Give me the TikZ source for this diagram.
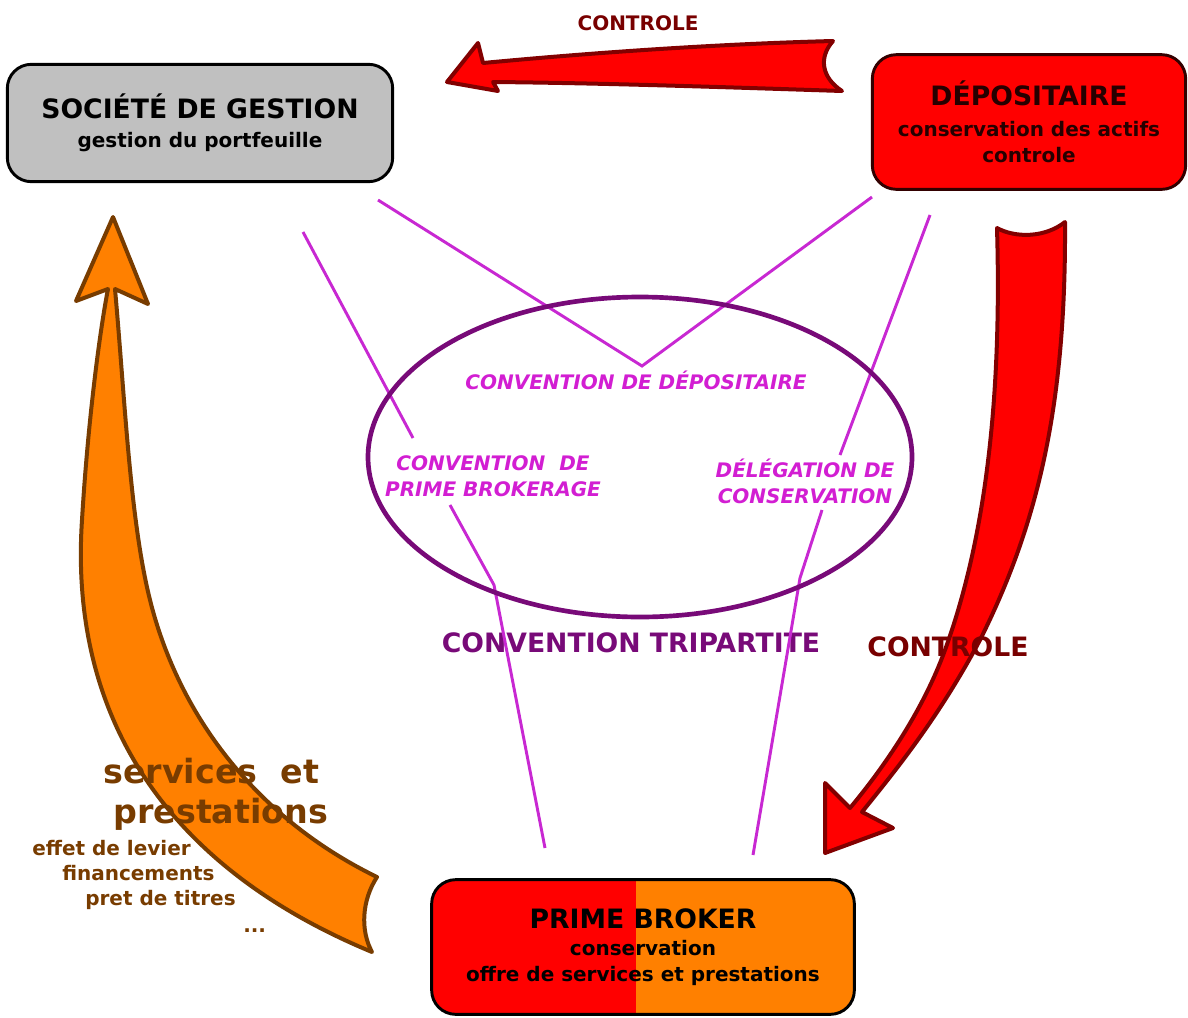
\documentclass[tikz,border=0pt]{standalone}
\usepackage{fontspec}
\setmainfont{DejaVu Sans}
\usepackage{xcolor}
\usepackage{tikz}

\definecolor{rouge}{RGB}{255,0,0}
\definecolor{bordrouge}{RGB}{130,0,0}
\definecolor{ctlrouge}{RGB}{120,0,0}
\definecolor{orangevif}{RGB}{255,128,0}
\definecolor{brun}{RGB}{120,60,0}
\definecolor{gristxt}{RGB}{192,192,192}
\definecolor{magline}{RGB}{200,40,210}
\definecolor{magtxt}{RGB}{210,30,210}
\definecolor{violet}{RGB}{120,10,120}

\begin{document}
\begin{tikzpicture}[x=0.75pt,y=0.75pt,yscale=-1,xscale=1,
  boite/.style={draw=black,line width=2.2pt,rounded corners=18pt,align=center,inner sep=0pt,
    font=\fontsize{15}{19.5}\selectfont\bfseries},
  grand/.style={font=\fontsize{20}{24}\selectfont\bfseries},
  convline/.style={draw=magline,line width=2.2pt},
  convtxt/.style={text=magtxt,font=\fontsize{15}{19.5}\selectfont\bfseries\itshape,align=center,inner sep=0pt},
  flecherouge/.style={fill=rouge,draw=bordrouge,line width=3pt,line join=round},
  flecheorange/.style={fill=orangevif,draw=brun,line width=3pt,line join=round},
  brtxt/.style={text=brun,inner sep=0pt,anchor=base west}]
\useasboundingbox (0,0) rectangle (1188,1017);

%Arrow: orange [id:services]
\draw [flecheorange] (113,217) -- (148,304) -- (115,289)
  .. controls (125,400) and (130,520) .. (150,600)
  .. controls (180,720) and (260,820) .. (377,877)
  .. controls (362,900) and (360,930) .. (372,952)
  .. controls (150,860) and (70,700) .. (82,520)
  .. controls (88,420) and (100,330) .. (108,289) -- (76,301) -- cycle;
%Arrow: red top [id:controle1]
\draw [flecherouge] (447,82) -- (478,43) -- (483,63)
  .. controls (600,52) and (720,44) .. (833,41)
  .. controls (818,58) and (822,78) .. (842,91)
  .. controls (720,87) and (600,83) .. (493,82) -- (498,91) -- cycle;
%Arrow: red right [id:controle2]
\draw [flecherouge] (997,228) .. controls (1015,238) and (1045,238) .. (1065,222)
  .. controls (1066,400) and (1040,520) .. (980,640)
  .. controls (940,715) and (900,765) .. (862,812)
  -- (893,828) -- (825,853) -- (825,783) -- (850,808)
  .. controls (890,760) and (925,705) .. (945,650)
  .. controls (985,540) and (1002,400) .. (997,228) -- cycle;

%Shape: Rounded Rect [id:societe]
\node [boite,fill=gristxt,minimum width=289pt,minimum height=88pt] (sg) at (200,123)
  {{\fontsize{20}{24}\selectfont SOCIÉTÉ DE GESTION}\\[2pt] gestion du portfeuille};
%Shape: Rounded Rect [id:depositaire]
\node [boite,fill=rouge,draw=black!80!red,text=black!85!red,minimum width=235pt,minimum height=101pt] (dep) at (1029,122)
  {{\fontsize{20}{24}\selectfont DÉPOSITAIRE}\\[4pt] conservation des actifs\\controle};
%Shape: Rounded Rect [id:primebroker]
\node [boite,fill=orangevif,minimum width=317pt,minimum height=101pt,
  path picture={\fill[rouge,sharp corners] (path picture bounding box.south west) rectangle ([xshift=-4.9pt]path picture bounding box.north);}] (pb) at (643,947)
  {{\fontsize{20}{24}\selectfont PRIME BROKER}\\[1pt] conservation\\offre de services et prestations};

% Text Node
\node [text=ctlrouge,font=\fontsize{15}{18}\selectfont\bfseries,inner sep=0pt,anchor=base] (ctl1) at (638,30) {CONTROLE};
% Text Node
\node [text=ctlrouge,grand,inner sep=0pt,anchor=base] (ctl2) at (948,656) {CONTROLE};
% Text Node
\node [text=violet,grand,inner sep=0pt,anchor=base] (tri) at (631,652) {CONVENTION TRIPARTITE};
% Text Node
\node [brtxt,font=\fontsize{25}{30}\selectfont\bfseries] (serv) at (103,783) {services~~et};
% Text Node
\node [brtxt,font=\fontsize{25}{30}\selectfont\bfseries] (prest) at (113,823) {prestations};
% Text Node
\node [brtxt,font=\fontsize{15}{18}\selectfont\bfseries] (levier) at (32,855) {effet de levier};
% Text Node
\node [brtxt,font=\fontsize{15}{18}\selectfont\bfseries] (fin) at (62,880) {financements};
% Text Node
\node [brtxt,font=\fontsize{15}{18}\selectfont\bfseries] (pret) at (85,905) {pret de titres};
% Text Node
\node [brtxt,font=\fontsize{15}{18}\selectfont\bfseries] (etc) at (243,932) {...};

% Text Node
\node [convtxt] (cdep) at (636,380) {CONVENTION DE DÉPOSITAIRE};
% Text Node
\node [convtxt] (cpb) at (493,476) {CONVENTION~~DE\\PRIME BROKERAGE};
% Text Node
\node [convtxt] (dlg) at (805,481) {DÉLÉGATION DE\\CONSERVATION};

%Line ends
\coordinate (sgA) at (378,200);
\coordinate (sgB) at (303,232);
\coordinate (depA) at (872,197);
\coordinate (depB) at (930,215);
\coordinate (pbA) at (545,848);
\coordinate (pbB) at (753,855);
\coordinate (vdep) at (642,366);

%Straight Lines [id:convdep]
\draw [convline] (sgA) -- (vdep) -- (depA);
%Straight Lines [id:convpb]
\draw [convline] (sgB) -- (413,438);
\draw [convline] (450,505) -- (494,585) -- (pbA);
%Straight Lines [id:delegation]
\draw [convline] (depB) -- (840,455);
\draw [convline] (822,510) -- (800,578) -- (pbB);

%Shape: Ellipse [id:tripartite]
\draw [draw=violet,line width=3.5pt] (640,457) ellipse [x radius=272,y radius=160];

\end{tikzpicture}
\end{document}
